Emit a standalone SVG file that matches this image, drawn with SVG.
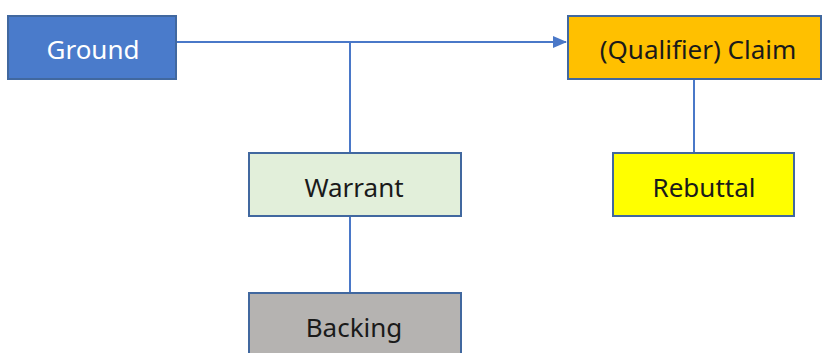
<svg xmlns="http://www.w3.org/2000/svg" width="822" height="353" viewBox="0 0 822 353">
  <style>
    .box { stroke: #41689f; stroke-width: 2; }
    .lbl { font-family: "Noto Sans", "Open Sans", sans-serif; font-size: 26px; text-anchor: middle; dominant-baseline: central; fill: #1a1a1a; }
    .conn { stroke: #4a78c8; stroke-width: 2; fill: none; }
  </style>
  <defs>
    <marker id="arrow" markerWidth="14" markerHeight="12" refX="13" refY="6" orient="auto" markerUnits="userSpaceOnUse">
      <path d="M0,0 L14,6 L0,12 z" fill="#4a78c8"/>
    </marker>
  </defs>
  <rect width="822" height="353" fill="#ffffff"/>

  <g id="connectors">
    <line class="conn" x1="177" y1="42" x2="566" y2="42" marker-end="url(#arrow)"/>
    <line class="conn" x1="350" y1="42" x2="350" y2="153"/>
    <line class="conn" x1="350" y1="216" x2="350" y2="293"/>
    <line class="conn" x1="694" y1="79" x2="694" y2="153"/>
  </g>

  <g id="ground">
    <rect class="box" x="8" y="16" width="168" height="63" fill="#4a7bcb"/>
    <text class="lbl" x="93" y="49" style="fill:#ffffff">Ground</text>
  </g>

  <g id="claim">
    <rect class="box" x="568" y="16" width="253" height="63" fill="#ffc000"/>
    <text class="lbl" x="698" y="49">(Qualifier) Claim</text>
  </g>

  <g id="warrant">
    <rect class="box" x="249" y="153" width="212" height="63" fill="#e2efda"/>
    <text class="lbl" x="354" y="187">Warrant</text>
  </g>

  <g id="rebuttal">
    <rect class="box" x="613" y="153" width="181" height="63" fill="#ffff00"/>
    <text class="lbl" x="704" y="187">Rebuttal</text>
  </g>

  <g id="backing">
    <rect class="box" x="249" y="293" width="212" height="70" fill="#b5b3b1"/>
    <text class="lbl" x="354" y="327">Backing</text>
  </g>
</svg>
